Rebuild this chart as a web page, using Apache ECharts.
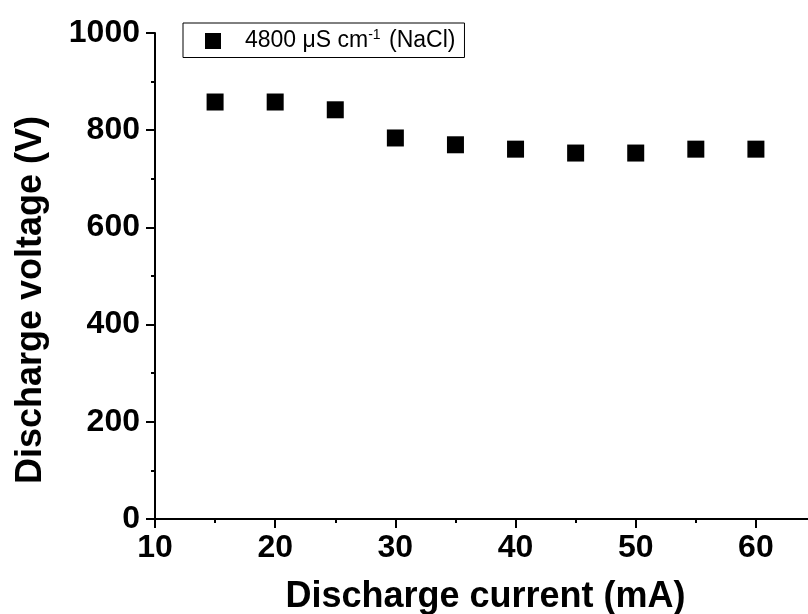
<!DOCTYPE html>
<html>
<head>
<meta charset="utf-8">
<script src="https://cdn.jsdelivr.net/npm/echarts@6/dist/echarts.min.js"></script>
<style>
  html, body { margin: 0; padding: 0; background: #fff; }
  #main { width: 808px; height: 614px; }
</style>
</head>
<body>
<div id="main"></div>
<script>
var current_mA = [15, 20, 25, 30, 35, 40, 45, 50, 55, 60];
var voltage_V = [858, 858, 842, 784, 770, 761, 753, 753, 761, 761];
var seriesName = '4800 μS cm-1 (NaCl)';

var chart = echarts.init(document.getElementById('main'));

var pts = [];
for (var i = 0; i < current_mA.length; i++) {
    pts.push([current_mA[i], voltage_V[i]]);
}

var axisFont = 'Liberation Sans, Arial, sans-serif';

chart.setOption({
    animation: false,
    backgroundColor: '#fff',
    grid: { left: 155, top: 33, bottom: 95, right: -8, outerBoundsMode: 'none' },
    legend: {
        left: 183,
        top: 23,
        padding: [5, 9, 5, 22],
        borderColor: '#000',
        borderWidth: 1,
        icon: 'rect',
        itemWidth: 16,
        itemHeight: 16,
        formatter: function () {
            return '{s|}4800 μS cm{sup|-1} (NaCl)';
        },
        textStyle: {
            fontFamily: axisFont,
            fontSize: 23,
            color: '#000',
            rich: {
                s: { width: 19 },
                sup: { fontSize: 14, verticalAlign: 'top', padding: [0, 2, 12, 0] }
            }
        },
        data: [seriesName]
    },
    xAxis: {
        type: 'value',
        min: 10,
        max: 65,
        interval: 10,
        name: 'Discharge current (mA)',
        nameLocation: 'middle',
        nameGap: 60,
        nameTextStyle: { fontFamily: axisFont, fontWeight: 'bold', fontSize: 36, color: '#000' },
        axisLine: { onZero: false, lineStyle: { color: '#000', width: 2 } },
        axisTick: { inside: false, length: 9, lineStyle: { color: '#000', width: 2 } },
        minorTick: { show: true, splitNumber: 2, length: 4, lineStyle: { color: '#000', width: 2 } },
        axisLabel: {
            margin: 13,
            fontFamily: axisFont, fontWeight: 'bold', fontSize: 32, color: '#000',
            showMaxLabel: false
        },
        splitLine: { show: false }
    },
    yAxis: {
        type: 'value',
        min: 0,
        max: 1000,
        interval: 200,
        name: 'Discharge voltage (V)',
        nameLocation: 'middle',
        nameRotate: 90,
        nameGap: 106,
        nameTextStyle: {
            fontFamily: axisFont, fontWeight: 'bold', fontSize: 36, color: '#000',
            padding: [0, 48, 0, 0]
        },
        axisLine: { onZero: false, lineStyle: { color: '#000', width: 2 } },
        axisTick: { inside: false, length: 9, lineStyle: { color: '#000', width: 2 } },
        minorTick: { show: true, splitNumber: 2, length: 4, lineStyle: { color: '#000', width: 2 } },
        axisLabel: {
            margin: 15,
            fontFamily: axisFont, fontWeight: 'bold', fontSize: 32, color: '#000',
            formatter: function (v) { return String(v); }
        },
        splitLine: { show: false }
    },
    series: [{
        name: seriesName,
        type: 'scatter',
        symbol: 'rect',
        symbolSize: 17,
        itemStyle: { color: '#000', opacity: 1 },
        data: pts
    }]
});
</script>
</body>
</html>
